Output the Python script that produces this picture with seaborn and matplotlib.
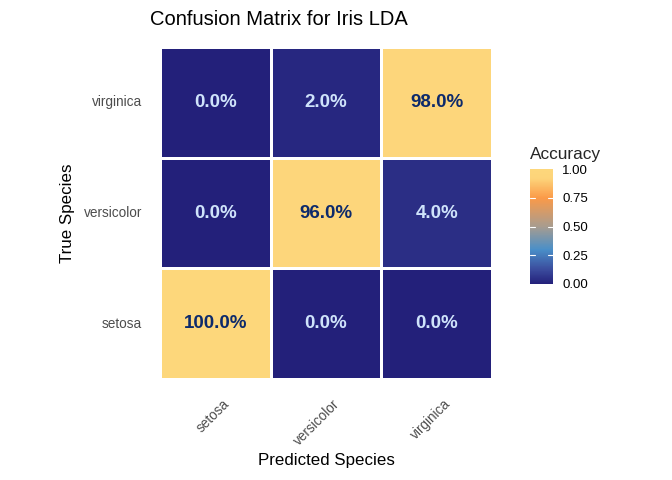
import numpy as np
import pandas as pd
import matplotlib
matplotlib.use("Agg")
import matplotlib.pyplot as plt
import seaborn as sns
from matplotlib.colors import LinearSegmentedColormap
from matplotlib.transforms import ScaledTranslation

true_species = ["virginica", "versicolor", "setosa"]  # top to bottom
pred_species = ["setosa", "versicolor", "virginica"]
acc_virginica = [0.00, 0.02, 0.98]
acc_versicolor = [0.00, 0.96, 0.04]
acc_setosa = [1.00, 0.00, 0.00]
cbar_ticks = [0.0, 0.25, 0.5, 0.75, 1.0]

df = pd.DataFrame([acc_virginica, acc_versicolor, acc_setosa],
                  index=true_species, columns=pred_species)
labels = df.map(lambda v: f"{v*100:.1f}%")

sns.set_theme(style="white")
plt.rcParams['font.family'] = ['Liberation Sans', 'DejaVu Sans']

cmap = LinearSegmentedColormap.from_list(
    "acc", [(0.0, "#23207a"), (0.12, "#3a4a9c"), (0.3, "#4a8fc8"),
            (0.5, "#a89c8f"), (0.75, "#fb9a48"), (0.92, "#fdd47a"),
            (1.0, "#fdd77b")])

fig = plt.figure(figsize=(6.72, 4.8), dpi=100)
ax = fig.add_axes([160/672, 1-379/480, 332/672, 332/480])
cax = fig.add_axes([530/672, 1-284/480, 23/672, 115/480])

sns.heatmap(df, ax=ax, cbar_ax=cax, cmap=cmap, vmin=0, vmax=1,
            linewidths=2, linecolor="white", annot=False, square=False)

for i in range(df.shape[0]):
    for j in range(df.shape[1]):
        v = df.iloc[i, j]
        col = "#0d2a6b" if v > 0.5 else "#cfe3fb"
        ax.text(j + 0.5, i + 0.5, labels.iloc[i, j], ha="center", va="center",
                fontsize=13.5, fontweight="bold", color=col)

ax.set_xticklabels(pred_species, rotation=45, ha="right", rotation_mode="anchor",
                   fontsize=9.8, color="#4d4d4d")
ax.set_yticklabels(true_species, rotation=0, fontsize=9.8, color="#4d4d4d")
ax.tick_params(axis="both", length=0)
ax.tick_params(axis="y", pad=13)
ax.tick_params(axis="x", pad=13)
for lab in ax.get_xticklabels():
    lab.set_transform(lab.get_transform() + ScaledTranslation(5/72, 0, fig.dpi_scale_trans))

ax.set_xlabel("Predicted Species", fontsize=12.2, color="black")
ax.xaxis.label.set_va("center")
ax.xaxis.set_label_coords(0.5, (379-461)/332)
ax.set_ylabel("True Species", fontsize=12.2, color="black")
ax.yaxis.label.set_va("center")
ax.yaxis.label.set_ha("center")
ax.yaxis.set_label_coords((68-160)/332, 0.5)

fig.text(150/672, 1-25/480, "Confusion Matrix for Iris LDA", fontsize=14.5,
         color="black", ha="left", va="baseline")

cax.set_yticks(cbar_ticks)
cax.set_yticklabels([f"{t:.2f}" for t in cbar_ticks], fontsize=9.5, color="black")
cax.tick_params(axis="y", length=0, pad=6.5)
for t in cbar_ticks[1:-1]:
    cax.plot([0, 0.2], [t, t], color="white", lw=0.8, transform=cax.get_yaxis_transform())
    cax.plot([0.8, 1.0], [t, t], color="white", lw=0.8, transform=cax.get_yaxis_transform())
for s in cax.spines.values():
    s.set_visible(False)
fig.text(530/672, 1-154/480, "Accuracy", fontsize=12.4, ha="left", va="center")

fig.savefig("out.png", dpi=100)
